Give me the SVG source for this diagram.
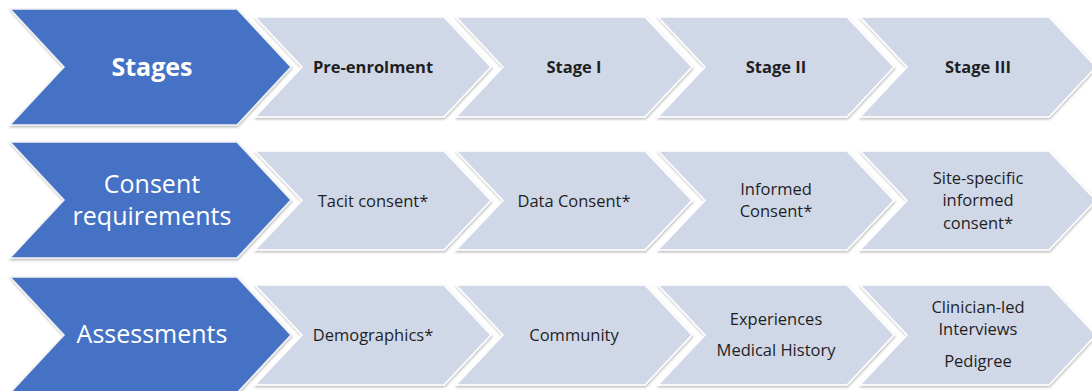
<svg xmlns="http://www.w3.org/2000/svg" width="1092" height="391" viewBox="0 0 1092 391">
<defs>
<filter id="sh" x="-5%" y="-5%" width="110%" height="115%">
<feDropShadow dx="0.5" dy="1.5" stdDeviation="1" flood-color="#000" flood-opacity="0.28"/>
</filter>
<style>
.head{fill:#4472C4;stroke:#f2f2f2;stroke-width:1.5;filter:url(#sh)}
.step{fill:#D0D8E8;stroke:#ffffff;stroke-width:1.5;filter:url(#sh)}
.ht{font-family:"Open Sans","Liberation Sans",sans-serif;fill:#ffffff;font-size:25px;text-anchor:middle}
.st{font-family:"Open Sans","Liberation Sans",sans-serif;fill:#1f1f1f;font-size:16.5px;text-anchor:middle}
.b{font-weight:bold}
</style>
</defs>
<rect width="1092" height="391" fill="#ffffff"/>

<g id="row-stages">
<g id="stages">
<polygon class="head" points="10,9 237,9 291,67 237,125 10,125 64,67"/>
<text class="ht b" x="152" y="76" font-size="24">Stages</text>
</g>
<g id="pre-enrolment">
<polygon class="step" points="255,17 444,17 491,67 444,117 255,117 302,67"/>
<text class="st b" x="373" y="73" font-size="16">Pre-enrolment</text>
</g>
<g id="stage-1">
<polygon class="step" points="456,17 645,17 692,67 645,117 456,117 503,67"/>
<text class="st b" x="574" y="73" font-size="16">Stage I</text>
</g>
<g id="stage-2">
<polygon class="step" points="658,17 847,17 894,67 847,117 658,117 705,67"/>
<text class="st b" x="776" y="73" font-size="16">Stage II</text>
</g>
<g id="stage-3">
<polygon class="step" points="860,17 1049,17 1096,67 1049,117 860,117 907,67"/>
<text class="st b" x="978" y="73" font-size="16">Stage III</text>
</g>
</g>

<g id="row-consent">
<g id="consent-requirements">
<polygon class="head" points="10,142 237,142 291,200 237,258 10,258 64,200"/>
<text class="ht" x="152" y="193">Consent</text>
<text class="ht" x="152" y="225">requirements</text>
</g>
<g id="tacit-consent">
<polygon class="step" points="255,151 444,151 491,200.5 444,250 255,250 302,200.5"/>
<text class="st" x="373" y="207">Tacit consent*</text>
</g>
<g id="data-consent">
<polygon class="step" points="456,151 645,151 692,200.5 645,250 456,250 503,200.5"/>
<text class="st" x="574" y="207">Data Consent*</text>
</g>
<g id="informed-consent">
<polygon class="step" points="658,151 847,151 894,200.5 847,250 658,250 705,200.5"/>
<text class="st" x="776" y="195">Informed</text>
<text class="st" x="776" y="217">Consent*</text>
</g>
<g id="site-specific-consent">
<polygon class="step" points="860,151 1049,151 1096,200.5 1049,250 860,250 907,200.5"/>
<text class="st" x="978" y="184">Site-specific</text>
<text class="st" x="978" y="206">informed</text>
<text class="st" x="978" y="229">consent*</text>
</g>
</g>

<g id="row-assessments">
<g id="assessments">
<polygon class="head" points="10,277 237,277 291,335 237,393 10,393 64,335"/>
<text class="ht" x="152" y="343">Assessments</text>
</g>
<g id="demographics">
<polygon class="step" points="255,285 444,285 491,335 444,385 255,385 302,335"/>
<text class="st" x="373" y="341">Demographics*</text>
</g>
<g id="community">
<polygon class="step" points="456,285 645,285 692,335 645,385 456,385 503,335"/>
<text class="st" x="574" y="341">Community</text>
</g>
<g id="experiences-history">
<polygon class="step" points="658,285 847,285 894,335 847,385 658,385 705,335"/>
<text class="st" x="776" y="325">Experiences</text>
<text class="st" x="776" y="356">Medical History</text>
</g>
<g id="clinician-pedigree">
<polygon class="step" points="860,285 1049,285 1096,335 1049,385 860,385 907,335"/>
<text class="st" x="978" y="313">Clinician-led</text>
<text class="st" x="978" y="335">Interviews</text>
<text class="st" x="978" y="367">Pedigree</text>
</g>
</g>

<g id="connectors"></g>
</svg>
